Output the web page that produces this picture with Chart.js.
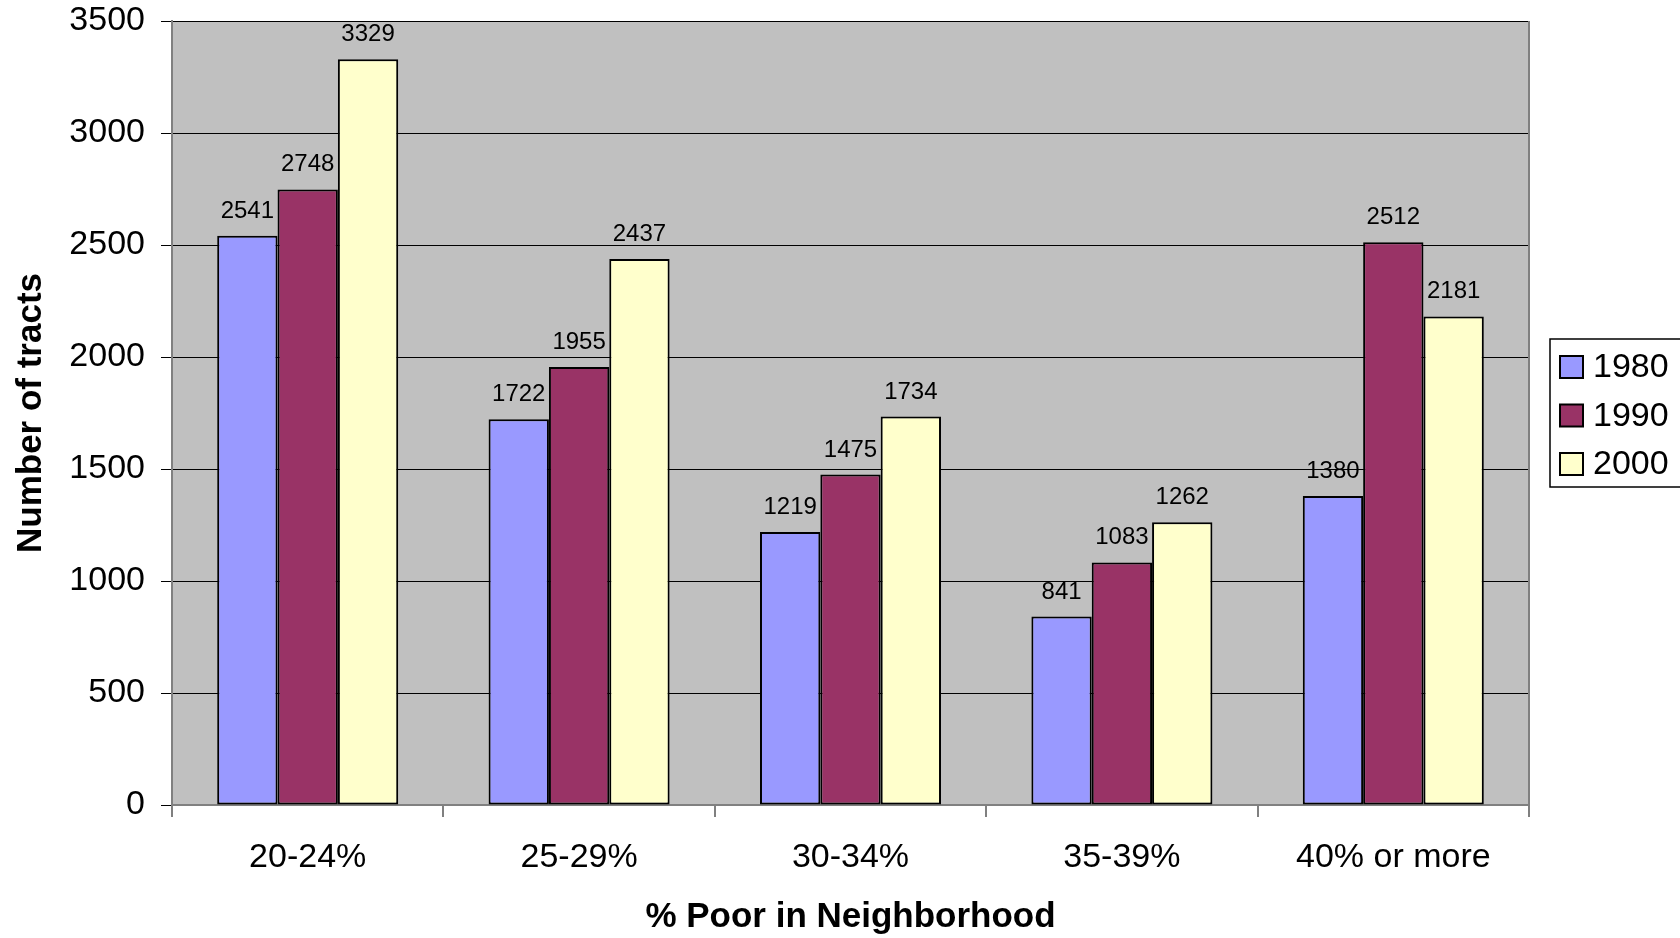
<!DOCTYPE html>
<html>
<head>
<meta charset="utf-8">
<script src="https://cdn.jsdelivr.net/npm/chart.js@4.4.0/dist/chart.umd.min.js"></script>
<style>
  html, body { margin: 0; padding: 0; background: #fff; }
  #wrap { width: 1680px; height: 938px; }
</style>
</head>
<body>
<div id="wrap"><canvas id="chart" width="1680" height="938"></canvas></div>
<script>
// categories and series
const categories = ['20-24%', '25-29%', '30-34%', '35-39%', '40% or more'];
const seriesNames = ['1980', '1990', '2000'];
const values1980 = [2541, 1722, 1219, 841, 1380];
const values1990 = [2748, 1955, 1475, 1083, 2512];
const values2000 = [3329, 2437, 1734, 1262, 2181];
const seriesColors = ['#9999FF', '#993366', '#FFFFCC'];
const yTicks = [0, 500, 1000, 1500, 2000, 2500, 3000, 3500];

const FONT = "'Liberation Sans', Arial, sans-serif";

// grey plot background + right border of plot
const plotBackground = {
  id: 'plotBackground',
  beforeDraw(chart) {
    const { ctx, chartArea: a } = chart;
    ctx.save();
    ctx.fillStyle = '#C0C0C0';
    ctx.fillRect(a.left, a.top, a.right - a.left, a.bottom - a.top);
    ctx.restore();
  },
  afterDatasetsDraw(chart) {
    const { ctx, chartArea: a } = chart;
    ctx.save();
    ctx.strokeStyle = '#808080';
    ctx.lineWidth = 2;
    ctx.beginPath();
    ctx.moveTo(a.right, a.top);
    ctx.lineTo(a.right, a.bottom);
    ctx.stroke();
    ctx.restore();
  }
};

// value labels above each bar
const valueLabels = {
  id: 'valueLabels',
  afterDatasetsDraw(chart) {
    const ctx = chart.ctx;
    ctx.save();
    ctx.font = '24px ' + FONT;
    ctx.fillStyle = '#000';
    ctx.textAlign = 'center';
    ctx.textBaseline = 'alphabetic';
    chart.data.datasets.forEach((ds, i) => {
      chart.getDatasetMeta(i).data.forEach((bar, j) => {
        ctx.fillText(String(ds.data[j]), bar.x, bar.y - 18);
      });
    });
    ctx.restore();
  }
};

// boxed legend to the right of the plot
const boxLegend = {
  id: 'boxLegend',
  afterDraw(chart) {
    const ctx = chart.ctx;
    const a = chart.chartArea;
    const left = a.right + 21, top = 339, w = 140, h = 148;
    ctx.save();
    ctx.fillStyle = '#fff';
    ctx.fillRect(left, top, w, h);
    ctx.strokeStyle = '#000';
    ctx.lineWidth = 1.5;
    ctx.strokeRect(left, top, w, h);
    ctx.font = '34px ' + FONT;
    ctx.textBaseline = 'middle';
    chart.data.datasets.forEach((ds, i) => {
      const cy = 367 + i * 48.5;
      ctx.fillStyle = ds.backgroundColor;
      ctx.fillRect(left + 10, cy - 11, 23, 22);
      ctx.strokeStyle = '#000';
      ctx.lineWidth = 2;
      ctx.strokeRect(left + 10, cy - 11, 23, 22);
      ctx.fillStyle = '#000';
      ctx.fillText(ds.label, left + 43, cy + 1);
    });
    ctx.restore();
  }
};

const datasets = [values1980, values1990, values2000].map((vals, i) => ({
  label: seriesNames[i],
  data: vals,
  backgroundColor: seriesColors[i],
  borderColor: '#000',
  borderWidth: 2,
  borderSkipped: false,
  categoryPercentage: 0.667,
  barPercentage: 1.0
}));

new Chart(document.getElementById('chart'), {
  type: 'bar',
  data: { labels: categories, datasets: datasets },
  options: {
    responsive: false,
    animation: false,
    devicePixelRatio: 1,
    layout: { padding: { left: 0, right: 151, top: 21, bottom: 0 } },
    plugins: {
      legend: { display: false },
      tooltip: { enabled: false }
    },
    scales: {
      x: {
        grid: {
          offset: true,
          drawOnChartArea: false,
          drawTicks: true,
          tickLength: 12,
          color: '#808080',
          lineWidth: 2
        },
        border: { color: '#808080', width: 2 },
        ticks: {
          font: { family: FONT, size: 34 },
          color: '#000',
          padding: 20,
          maxRotation: 0
        },
        title: {
          display: true,
          text: '% Poor in Neighborhood',
          font: { family: FONT, size: 35, weight: 'bold' },
          color: '#000',
          padding: { top: 10, bottom: 0 }
        },
        afterFit(scale) { scale.height = 133; }
      },
      y: {
        min: 0,
        max: 3500,
        afterBuildTicks(scale) { scale.ticks = yTicks.map(v => ({ value: v })); },
        grid: {
          color: '#000',
          lineWidth: 1,
          tickLength: 11,
          drawTicks: true
        },
        border: { color: '#808080', width: 2 },
        ticks: {
          font: { family: FONT, size: 34 },
          color: '#000',
          padding: 16,
          callback: v => String(v)
        },
        title: {
          display: true,
          text: 'Number of tracts',
          font: { family: FONT, size: 35, weight: 'bold' },
          color: '#000',
          padding: { top: 10, bottom: 4 }
        },
        afterFit(scale) {
          scale.width = 172;
          scale.paddingTop = 0;
          scale.paddingBottom = 0;
        }
      }
    }
  },
  plugins: [plotBackground, valueLabels, boxLegend]
});
</script>
</body>
</html>
